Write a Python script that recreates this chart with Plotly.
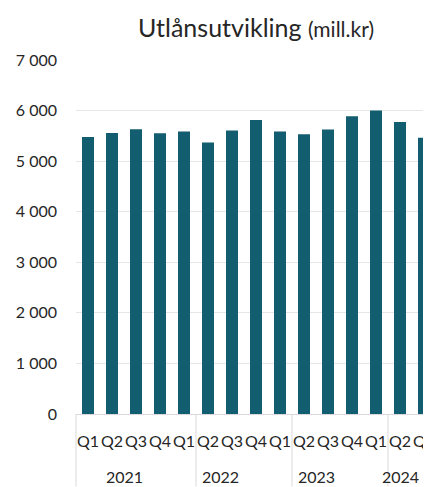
import plotly.graph_objects as go

quarters = ["Q1", "Q2", "Q3", "Q4", "Q1", "Q2", "Q3", "Q4", "Q1", "Q2", "Q3", "Q4", "Q1", "Q2", "Q3"]
values = [5475, 5555, 5630, 5550, 5585, 5370, 5605, 5815, 5585, 5530, 5625, 5890, 6000, 5775, 5465]
years = ["2021", "2022", "2023", "2024"]
year_centers = [1.5, 5.5, 9.5, 13]
dividers = [-0.5, 4.5, 8.5, 12.5]

BAR = "#135d70"
FONT = "Lato"
TXT = "#262626"
# the page has an 8px body margin; size the figure so it fills the window
W, H = 423, 479
L, R, T, B = 68, 0, 52, 72.5
x = list(range(len(values)))
xmin, xmax = -0.5, -0.5 + (W - L - R) / 24

fig = go.Figure(go.Bar(x=x, y=values, marker=dict(color=BAR, line=dict(width=0)), width=0.5))

plot_h = H - T - B
shapes = []
for d in dividers:
    px = (d - xmin) / (xmax - xmin)
    shapes.append(dict(type="line", xref="paper", yref="paper", x0=px, x1=px, y0=0, y1=-B / plot_h,
                       line=dict(color="#d9d9d9", width=1)))

annotations = []
for yr, c in zip(years, year_centers):
    annotations.append(dict(text=yr, x=c, xref="x", y=-62.5 / plot_h, yref="paper", showarrow=False,
                            xanchor="center", yanchor="middle", font=dict(family=FONT, size=16, color=TXT)))

fig.update_layout(
    width=W, height=H,
    margin=dict(l=L, r=R, t=T, b=B),
    plot_bgcolor="white", paper_bgcolor="white",
    separators=", ",
    showlegend=False,
    title=dict(text="Utlånsutvikling <span style='font-size:21px'>(mill.kr)</span>",
               x=248 / W, xanchor="center", xref="container", y=1 - 20 / H, yanchor="middle",
               font=dict(family=FONT, size=25, color=TXT)),
    xaxis=dict(range=[xmin, xmax], tickvals=x, ticktext=quarters, showgrid=False, zeroline=False,
               showline=True, linecolor="#d9d9d9", linewidth=1, ticks="", ticklabelstandoff=13,
               tickangle=0, automargin=False, ticklabeloverflow="allow",
               tickfont=dict(family=FONT, size=16, color=TXT)),
    yaxis=dict(range=[0, 7000], dtick=1000, tickformat=",d", showgrid=True, gridcolor="#e6e6e6",
               gridwidth=1, zeroline=False, ticks="", ticklabelstandoff=18, automargin=False,
               tickfont=dict(family=FONT, size=16, color=TXT)),
    shapes=shapes, annotations=annotations,
)

fig.write_html("out.html")
